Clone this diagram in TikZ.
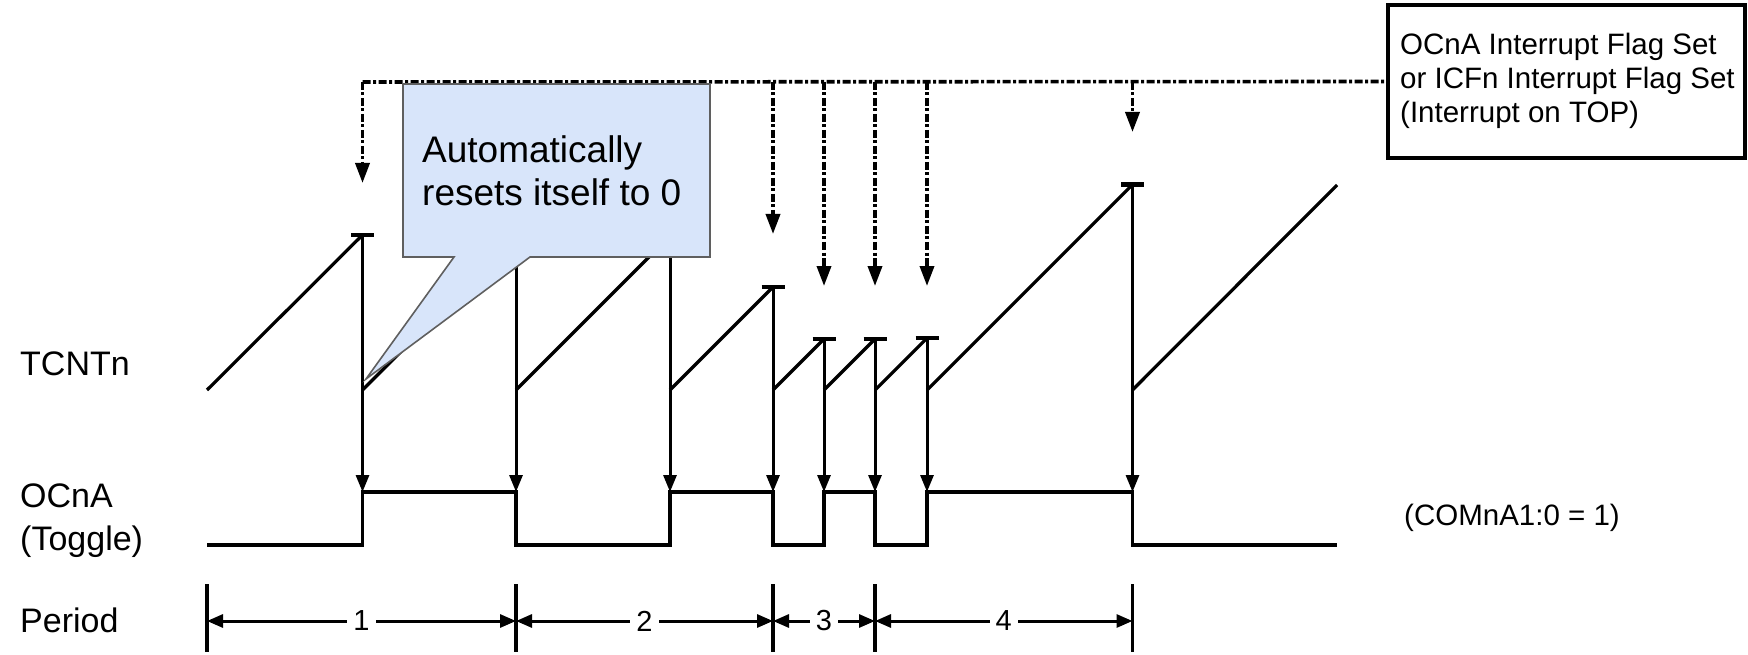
\documentclass[tikz,border=0pt]{standalone}
\usepackage{fontspec}
\setmainfont{Liberation Sans}
\usetikzlibrary{arrows.meta}
\definecolor{calloutfill}{RGB}{216,229,250}
\definecolor{calloutline}{RGB}{95,95,95}
\tikzset{
  wave/.style={line width=3.6pt, line join=miter},
  ramp/.style={line width=3.2pt},
  resetarrow/.style={line width=3pt, -{Triangle[length=17pt,width=13pt]}},
  topcap/.style={line width=4.5pt},
  dashdot/.style={line width=3.6pt, dash pattern=on 8pt off 2.5pt on 3pt off 2.5pt},
  flagarrow/.style={dashdot, -{Triangle[length=20pt,width=14pt]}},
  tickline/.style={line width=3.4pt},
  periodarrow/.style={line width=3pt, {Triangle[length=16pt,width=13pt]}-{Triangle[length=16pt,width=13pt]}},
  lbl/.style={anchor=base west, inner sep=0pt, align=left, font=\fontsize{34}{43}\selectfont},
  small/.style={anchor=base west, inner sep=0pt, align=left, font=\fontsize{29.5}{34}\selectfont},
  plabel/.style={fill=white, inner sep=6pt, font=\fontsize{29}{32}\selectfont},
  callout/.style={fill=calloutfill, draw=calloutline, line width=1.6pt, line join=miter},
  notetext/.style={anchor=base west, inner sep=0pt, align=left, font=\fontsize{37}{43.3}\selectfont},
  flagbox/.style={draw, line width=3.4pt, minimum width=357pt, minimum height=153pt, inner sep=0pt},
}
\begin{document}
\begin{tikzpicture}[x=1pt,y=-1pt]
\useasboundingbox (0,0) rectangle (1748,655);

% TCNTn bottom points, tops, OCnA high points
\coordinate (b0) at (207,390);
\coordinate (t1) at (362.5,235);   \coordinate (b1) at (362.5,390);  \coordinate (h1) at (362.5,492);
\coordinate (t2) at (516,236.5);   \coordinate (b2) at (516,390);    \coordinate (h2) at (516,492);
\coordinate (t3) at (670,236);     \coordinate (b3) at (670,390);    \coordinate (h3) at (670,492);
\coordinate (t4) at (773,287);     \coordinate (b4) at (773,390);    \coordinate (h4) at (773,492);
\coordinate (t5) at (824,339);     \coordinate (b5) at (824,390);    \coordinate (h5) at (824,492);
\coordinate (t6) at (875,339);     \coordinate (b6) at (875,390);    \coordinate (h6) at (875,492);
\coordinate (t7) at (927,338);     \coordinate (b7) at (927,390);    \coordinate (h7) at (927,492);
\coordinate (t8) at (1132.5,184.5);\coordinate (b8) at (1132.5,390); \coordinate (h8) at (1132.5,492);
\coordinate (t9) at (1337,185);

% ramps
\draw[ramp] (b0) -- (t1);
\draw[ramp] (b1) -- (t2);
\draw[ramp] (b2) -- (t3);
\draw[ramp] (b3) -- (t4);
\draw[ramp] (b4) -- (t5);
\draw[ramp] (b5) -- (t6);
\draw[ramp] (b6) -- (t7);
\draw[ramp] (b7) -- (t8);
\draw[ramp] (b8) -- (t9);

% resets and compare-match arrows
\foreach \i in {1,...,8}{
  \draw[resetarrow] (t\i) -- (h\i);
  \draw[topcap] ([xshift=-11.5pt]t\i) -- ([xshift=11.5pt]t\i);
}

% flag box
\node[flagbox] (flag) at (1566.5,81.5) {};
\node[small] (flagtext) at (1400,123) {OCnA Interrupt Flag Set\\or ICFn Interrupt Flag Set\\(Interrupt on TOP)};

% dash-dot flag lines
\coordinate (f1) at (362.5,82);  \coordinate (a1) at (362.5,183);
\coordinate (f4) at (773,82);    \coordinate (a4) at (773,234);
\coordinate (f5) at (824,82);    \coordinate (a5) at (824,286);
\coordinate (f6) at (875,82);    \coordinate (a6) at (875,286);
\coordinate (f7) at (927,82);    \coordinate (a7) at (927,286);
\coordinate (f8) at (1132.5,82); \coordinate (a8) at (1132.5,132);
\draw[dashdot] (f1) -- (flag.west);
\foreach \i in {1,4,5,6,7,8}{
  \draw[flagarrow] (f\i) -- (a\i);
}

% OCnA waveform
\coordinate (l0) at (207,545);
\coordinate (l9) at (1337,545);
\draw[wave] (l0) -- (362.5,545) -- (h1) -- (h2) -- (516,545) -- (670,545) -- (h3)
  -- (h4) -- (773,545) -- (824,545) -- (h5) -- (h6) -- (875,545) -- (927,545) -- (h7)
  -- (h8) -- (1132.5,545) -- (l9);

% period ticks and arrows
\foreach \n/\x in {0/207,1/516,2/773,3/875,4/1132.5}{
  \coordinate (pt\n) at (\x,584);
  \coordinate (pb\n) at (\x,652);
  \coordinate (pm\n) at (\x,621);
  \draw[tickline] (pt\n) -- (pb\n);
}
\draw[periodarrow] (pm0) -- node[plabel] (per1) {1} (pm1);
\draw[periodarrow] (pm1) -- node[plabel] (per2) {2} (pm2);
\draw[periodarrow] (pm2) -- node[plabel] (per3) {3} (pm3);
\draw[periodarrow] (pm3) -- node[plabel] (per4) {4} (pm4);

% callout
\draw[callout] (403,84) -- (710,84) -- (710,257) -- (530,257) -- (366,379) -- (454,257) -- (403,257) -- cycle;
\node[notetext] (note) at (422,205.3) {Automatically\\resets itself to 0};

% labels
\node[lbl] (tcnt) at (20,375) {TCNTn};
\node[lbl] (ocna) at (20,550) {OCnA\\(Toggle)};
\node[lbl] (period) at (20,632) {Period};
\node[small] (com) at (1404,525) {(COMnA1:0 = 1)};
\end{tikzpicture}
\end{document}
